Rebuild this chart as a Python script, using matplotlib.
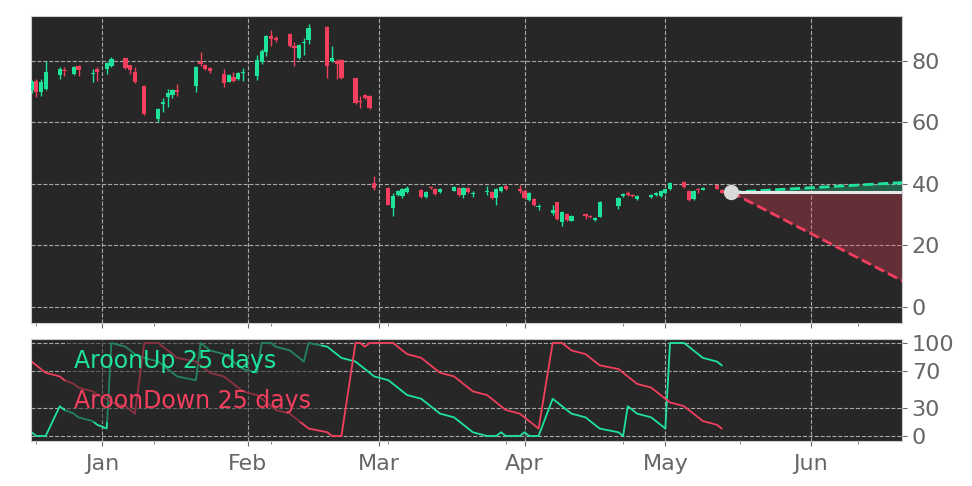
import numpy as np
import pandas as pd
import matplotlib
matplotlib.use('Agg')
import matplotlib.pyplot as plt
import matplotlib.dates as mdates
from datetime import datetime

## trading days shown (US market holidays removed)
holidays = ['2024-12-25', '2025-01-01', '2025-01-09', '2025-01-20', '2025-02-17', '2025-04-18']
dates = pd.bdate_range('2024-12-17', '2025-05-13')
dates = dates[~dates.isin(pd.to_datetime(holidays))]

# daily candles (Dec / Jan / Feb / Mar / Apr / May)
opens = [70.5, 73.5, 70.0, 70.8, 75.4, 77.2, 75.7, 78.4, 75.8, 77.4,
         77.3, 78.4, 81.1, 78.6, 76.5, 71.9, 61.0, 66.0, 68.2, 68.9, 70.6, 72.0, 79.8, 78.7, 77.8, 75.7, 73.3, 74.9, 74.1, 76.0,
         75.1, 79.8, 83.0, 88.1, 87.4, 88.8, 84.9, 81.1, 85.7, 86.8, 90.9, 80.0, 80.1, 80.3, 74.4, 67.0, 68.9, 68.6, 40.2,
         38.8, 32.1, 36.4, 36.1, 37.5, 38.0, 35.9, 38.9, 38.3, 37.3, 37.8, 38.6, 36.4, 38.6, 36.6, 37.4, 37.5, 35.4, 37.8, 39.3, 38.5,
         37.7, 34.8, 35.0, 32.4, 30.5, 34.0, 27.7, 30.1, 28.1, 30.1, 29.5, 28.4, 29.4, 32.8, 36.1, 37.2, 36.4, 35.0, 35.8, 36.4, 36.1,
         37.0, 38.4, 40.7, 37.8, 35.1, 38.3, 38.1, 39.5, 38.0]
highs = [73.8, 74.0, 74.0, 80.0, 78.0, 78.0, 78.2, 78.6, 77.5, 78.0,
         79.8, 81.3, 81.1, 78.8, 78.0, 72.2, 64.8, 68.0, 71.0, 70.8, 72.5, 78.4, 83.0, 79.0, 78.0, 77.5, 75.6, 76.5, 76.5, 77.8,
         82.0, 84.0, 88.5, 90.0, 88.0, 89.0, 86.0, 85.5, 87.5, 92.0, 91.2, 84.8, 80.5, 80.6, 74.6, 68.5, 69.2, 68.8, 42.6,
         39.0, 37.0, 38.0, 38.8, 39.2, 38.2, 37.6, 39.3, 38.6, 38.7, 39.4, 39.0, 38.9, 38.9, 37.8, 39.4, 37.8, 38.7, 39.4, 39.6, 39.6,
         38.0, 37.5, 35.3, 33.6, 33.0, 34.2, 31.3, 30.4, 30.0, 30.6, 29.8, 29.3, 34.3, 35.8, 37.2, 37.6, 36.7, 36.5, 36.7, 37.3, 38.0,
         38.5, 40.6, 40.9, 38.0, 38.1, 38.8, 38.9, 39.8, 38.2]
lows = [69.5, 68.4, 68.5, 70.5, 74.2, 75.0, 75.5, 75.0, 73.0, 73.5,
        75.8, 78.0, 77.5, 75.8, 72.8, 62.5, 60.3, 63.5, 65.0, 68.0, 68.5, 70.0, 78.5, 77.0, 76.0, 71.5, 73.0, 73.3, 73.8, 73.6,
        73.8, 79.0, 81.5, 85.0, 86.0, 84.5, 78.3, 80.5, 82.0, 85.5, 74.5, 79.5, 74.0, 74.0, 66.0, 64.8, 67.5, 64.5, 37.9,
        33.0, 29.7, 36.0, 35.4, 37.2, 35.5, 35.5, 38.2, 36.4, 37.0, 37.6, 36.2, 35.3, 37.2, 35.9, 36.5, 35.1, 33.0, 37.5, 38.1, 37.2,
        35.2, 34.5, 32.9, 31.6, 29.8, 28.2, 26.3, 28.0, 27.8, 28.6, 28.8, 28.1, 29.1, 32.0, 35.6, 36.1, 35.7, 34.8, 35.5, 36.1, 35.8,
        36.7, 38.1, 38.8, 34.5, 34.8, 37.2, 37.9, 38.2, 36.9]
closes = [73.0, 69.8, 73.0, 76.5, 77.3, 76.7, 77.9, 77.0, 76.1, 76.3,
          79.4, 80.7, 77.8, 76.9, 73.1, 62.8, 64.3, 66.5, 69.7, 70.4, 70.0, 78.1, 79.0, 77.3, 76.8, 72.7, 75.4, 73.5, 76.2, 76.3,
          80.3, 83.3, 88.1, 87.0, 86.7, 84.7, 84.1, 85.2, 86.3, 90.6, 78.5, 81.1, 79.1, 74.4, 66.2, 66.6, 67.9, 64.8, 38.6,
          33.2, 36.1, 37.8, 38.3, 38.6, 35.9, 37.3, 38.6, 36.7, 38.4, 39.1, 36.4, 38.6, 37.5, 37.0, 37.7, 35.4, 38.4, 39.1, 38.4, 37.8,
          35.5, 37.2, 33.2, 32.9, 31.5, 28.5, 31.0, 28.3, 29.7, 29.7, 29.2, 29.0, 34.0, 35.5, 36.6, 36.4, 36.0, 36.2, 36.4, 37.0, 37.7,
          38.2, 40.2, 39.1, 34.8, 37.8, 37.9, 38.6, 38.4, 37.2]

# Aroon 25 days
aroon_up = [4, 0, 0, 0, 32, 28, 24, 20, 16, 12,
            8, 100, 96, 92, 88, 84, 80, 76, 72, 68, 64, 60, 100, 96, 92, 88, 84, 80, 76, 72,
            68, 100, 100, 100, 96, 92, 88, 84, 80, 100, 96, 92, 88, 84, 80, 76, 72, 68, 64,
            60, 56, 52, 48, 44, 40, 36, 32, 28, 24, 20, 16, 12, 8, 4, 0, 0, 0, 4, 0, 0,
            4, 0, 0, 0, 40, 36, 32, 28, 24, 20, 16, 12, 8, 4, 0, 32, 28, 24, 20, 16, 12,
            8, 100, 100, 96, 92, 88, 84, 80, 76]
aroon_down = [80, 76, 72, 68, 64, 60, 56, 52, 48, 44,
              40, 36, 32, 28, 24, 100, 100, 96, 92, 88, 84, 80, 76, 72, 68, 64, 60, 56, 52, 48,
              44, 40, 36, 32, 28, 24, 20, 16, 12, 8, 4, 0, 0, 0, 100, 100, 96, 100, 100,
              100, 100, 96, 92, 88, 84, 80, 76, 72, 68, 64, 60, 56, 52, 48, 44, 40, 36, 32, 28, 24,
              20, 16, 12, 8, 100, 100, 100, 96, 92, 88, 84, 80, 76, 72, 68, 64, 60, 56, 52, 48, 44,
              40, 36, 32, 28, 24, 20, 16, 12, 8]

# forecast cone
forecast_dates = pd.to_datetime(['2025-05-15', '2025-06-21'])
last_close = 37.3
forecast_mid = [37.3, 37.3]
forecast_high = [37.3, 40.5]
forecast_low = [37.3, 8.1]

green = '#1fe39a'
red = '#f23f5e'
bg = '#272727'
txt = '#666666'

fig = plt.figure(figsize=(9.72, 4.86), dpi=100)
ax1 = fig.add_axes([0.0319, 0.3354, 0.8961, 0.6317])
ax2 = fig.add_axes([0.0319, 0.0926, 0.8961, 0.2099], sharex=ax1)

o = np.array(opens); h = np.array(highs); l = np.array(lows); c = np.array(closes)
x = mdates.date2num(dates)
cols = np.where(c >= o, green, red)
ax1.vlines(x, l, h, colors=cols, lw=1.0, zorder=3)
body = np.maximum(np.abs(c - o), 0.3)
ax1.bar(x, body, width=0.9, bottom=np.minimum(o, c), color=cols, zorder=4)

# forecast
fx = mdates.date2num(forecast_dates)
ax1.fill_between(fx, forecast_mid, forecast_high, color=green, alpha=0.3, lw=0, zorder=2)
ax1.fill_between(fx, forecast_mid, forecast_low, color=red, alpha=0.3, lw=0, zorder=2)
ax1.plot(fx, forecast_high, color=green, ls='--', lw=2, zorder=5)
ax1.plot(fx, forecast_low, color=red, ls='--', lw=2, zorder=5)
ax1.plot(fx, forecast_mid, color='#e6e6e6', lw=2.2, zorder=5)
ax1.plot(fx[0], last_close, 'o', color='#d9d9d9', ms=10, zorder=6)

# aroon
lu, = ax2.plot(x, aroon_up, color=green, lw=1.3)
ld, = ax2.plot(x, aroon_down, color=red, lw=1.3)
leg = ax2.legend([lu, ld], ['AroonUp 25 days', 'AroonDown 25 days'], loc='upper left',
                 bbox_to_anchor=(0.039, 0.99), borderaxespad=0, handlelength=0, handletextpad=0,
                 labelspacing=0.65, fontsize=17, labelcolor='linecolor', facecolor=bg,
                 framealpha=0.5, edgecolor='none')

for ax in (ax1, ax2):
    ax.set_facecolor(bg)
    ax.yaxis.tick_right()
    ax.grid(True, ls='--', color='#a8a8a8', lw=0.8)
    ax.tick_params(colors=txt, labelsize=16, which='both')
    for s in ax.spines.values():
        s.set_color('#cccccc')

ax1.set_ylim(-5.2, 94.6)
ax1.set_yticks([0, 20, 40, 60, 80])
ax2.set_ylim(-5.4, 104.3)
ax2.set_yticks([0, 30, 70, 100])

ax2.set_xlim(datetime(2024, 12, 16, 21), datetime(2025, 6, 20, 10))
ax2.xaxis.set_major_locator(mdates.MonthLocator())
ax2.xaxis.set_major_formatter(mdates.DateFormatter('%b'))
minor_days = pd.to_datetime(['2024-12-18', '2025-01-12', '2025-02-06', '2025-03-03', '2025-03-28',
                             '2025-04-22', '2025-05-17', '2025-06-11'])
ax2.xaxis.set_minor_locator(matplotlib.ticker.FixedLocator(mdates.date2num(minor_days)))
ax2.tick_params(axis='x', pad=6)
ax1.tick_params(labelbottom=False)

fig.savefig('out.png', dpi=100, facecolor='white')
